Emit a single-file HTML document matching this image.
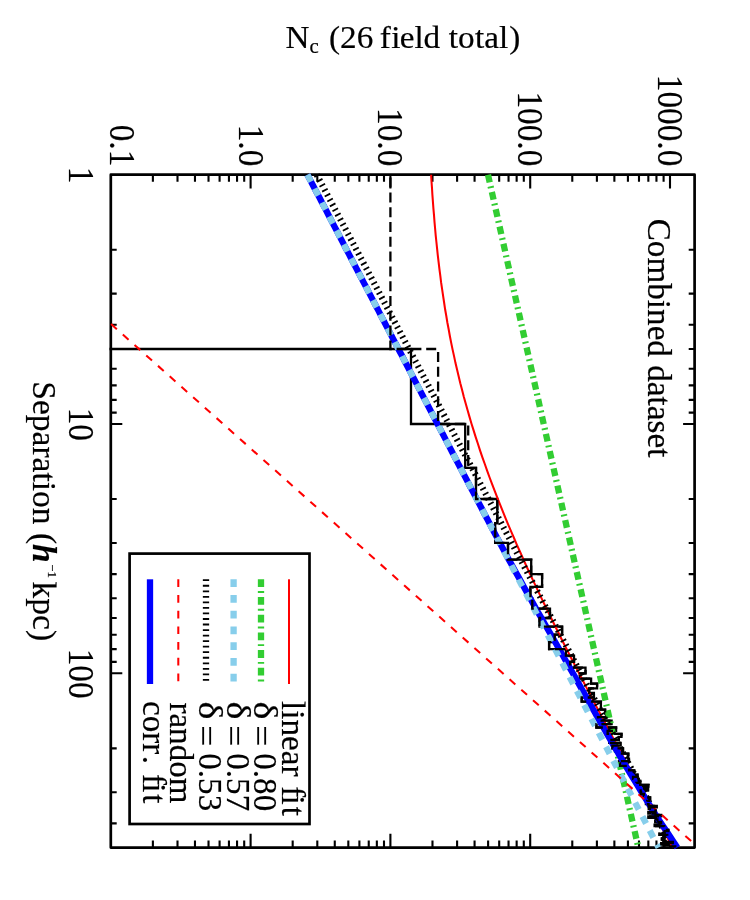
<!DOCTYPE html>
<html><head><meta charset="utf-8"><title>Nc vs separation</title>
<style>html,body{margin:0;padding:0;background:#fff;}body{width:750px;height:900px;overflow:hidden;}svg{display:block;will-change:transform;}text{font-family:"Liberation Serif",serif;fill:#000;stroke:#000;stroke-width:0.2px;}</style></head><body>
<svg width="750" height="900" viewBox="0 0 750 900">
<rect x="0" y="0" width="750" height="900" fill="#fff"/>
<defs><clipPath id="cp"><rect x="109.5" y="171.7" width="586.40" height="678.85"/></clipPath></defs>
<rect x="110.8" y="174.7" width="583.80" height="672.85" fill="none" stroke="#000" stroke-width="2.7" stroke-linejoin="round"/>
<path d="M152.88 174.7 v7.0 M152.88 847.55 v-7.0 M177.50 174.7 v7.0 M177.50 847.55 v-7.0 M194.97 174.7 v7.0 M194.97 847.55 v-7.0 M208.52 174.7 v7.0 M208.52 847.55 v-7.0 M219.59 174.7 v7.0 M219.59 847.55 v-7.0 M228.94 174.7 v7.0 M228.94 847.55 v-7.0 M237.05 174.7 v7.0 M237.05 847.55 v-7.0 M244.20 174.7 v7.0 M244.20 847.55 v-7.0 M250.60 174.7 v13.7 M250.60 847.55 v-13.7 M292.68 174.7 v7.0 M292.68 847.55 v-7.0 M317.30 174.7 v7.0 M317.30 847.55 v-7.0 M334.77 174.7 v7.0 M334.77 847.55 v-7.0 M348.32 174.7 v7.0 M348.32 847.55 v-7.0 M359.39 174.7 v7.0 M359.39 847.55 v-7.0 M368.74 174.7 v7.0 M368.74 847.55 v-7.0 M376.85 174.7 v7.0 M376.85 847.55 v-7.0 M384.00 174.7 v7.0 M384.00 847.55 v-7.0 M390.40 174.7 v13.7 M390.40 847.55 v-13.7 M432.48 174.7 v7.0 M432.48 847.55 v-7.0 M457.10 174.7 v7.0 M457.10 847.55 v-7.0 M474.57 174.7 v7.0 M474.57 847.55 v-7.0 M488.12 174.7 v7.0 M488.12 847.55 v-7.0 M499.19 174.7 v7.0 M499.19 847.55 v-7.0 M508.54 174.7 v7.0 M508.54 847.55 v-7.0 M516.65 174.7 v7.0 M516.65 847.55 v-7.0 M523.80 174.7 v7.0 M523.80 847.55 v-7.0 M530.20 174.7 v13.7 M530.20 847.55 v-13.7 M572.28 174.7 v7.0 M572.28 847.55 v-7.0 M596.90 174.7 v7.0 M596.90 847.55 v-7.0 M614.37 174.7 v7.0 M614.37 847.55 v-7.0 M627.92 174.7 v7.0 M627.92 847.55 v-7.0 M638.99 174.7 v7.0 M638.99 847.55 v-7.0 M648.34 174.7 v7.0 M648.34 847.55 v-7.0 M656.45 174.7 v7.0 M656.45 847.55 v-7.0 M663.60 174.7 v7.0 M663.60 847.55 v-7.0 M670.00 174.7 v13.7 M670.00 847.55 v-13.7 M110.8 249.75 h5.9 M694.6 249.75 h-5.9 M110.8 293.65 h5.9 M694.6 293.65 h-5.9 M110.8 324.79 h5.9 M694.6 324.79 h-5.9 M110.8 348.95 h5.9 M694.6 348.95 h-5.9 M110.8 368.69 h5.9 M694.6 368.69 h-5.9 M110.8 385.38 h5.9 M694.6 385.38 h-5.9 M110.8 399.84 h5.9 M694.6 399.84 h-5.9 M110.8 412.59 h5.9 M694.6 412.59 h-5.9 M110.8 424.00 h11.5 M694.6 424.00 h-11.5 M110.8 499.05 h5.9 M694.6 499.05 h-5.9 M110.8 542.95 h5.9 M694.6 542.95 h-5.9 M110.8 574.09 h5.9 M694.6 574.09 h-5.9 M110.8 598.25 h5.9 M694.6 598.25 h-5.9 M110.8 617.99 h5.9 M694.6 617.99 h-5.9 M110.8 634.68 h5.9 M694.6 634.68 h-5.9 M110.8 649.14 h5.9 M694.6 649.14 h-5.9 M110.8 661.89 h5.9 M694.6 661.89 h-5.9 M110.8 673.30 h11.5 M694.6 673.30 h-11.5 M110.8 748.35 h5.9 M694.6 748.35 h-5.9 M110.8 792.25 h5.9 M694.6 792.25 h-5.9 M110.8 823.39 h5.9 M694.6 823.39 h-5.9" stroke="#000" stroke-width="2.1" fill="none"/>
<g clip-path="url(#cp)" fill="none">
<polyline points="105.8,349.0 411.0,349.0 411.0,424.0 465.2,424.0 465.2,467.9 476.0,467.9 476.0,499.0 497.3,499.0 497.3,523.2 495.2,523.2 495.2,542.9 508.0,542.9 508.0,559.6 531.2,559.6 531.2,574.1 542.1,574.1 542.1,586.8 530.4,586.8 530.4,598.3 532.3,598.3 532.3,608.6 550.0,608.6 550.0,618.0 539.5,618.0 539.5,626.7 562.1,626.7 562.1,634.7 554.7,634.7 554.7,642.2 549.1,642.2 549.1,649.1 565.9,649.1 565.9,655.7 574.0,655.7 574.0,661.9 570.2,661.9 570.2,667.7 585.5,667.7 585.5,673.3 579.9,673.3 579.9,678.6 591.1,678.6 591.1,683.6 597.1,683.6 597.1,688.4 589.2,688.4 589.2,693.0 593.9,693.0 593.9,697.5 581.7,697.5 581.7,701.7 600.9,701.7 600.9,705.8 600.9,705.8 600.9,709.7 605.1,709.7 605.1,713.5 606.0,713.5 606.0,717.2 598.0,717.2 598.0,720.7 611.6,720.7 611.6,724.2 596.4,724.2 596.4,727.5 616.1,727.5 616.1,730.8 607.6,730.8 607.6,733.9 621.5,733.9 621.5,736.9 618.8,736.9 618.8,739.9 609.2,739.9 609.2,742.8 620.7,742.8 620.7,745.6 612.4,745.6 612.4,748.3 623.0,748.3 623.0,751.0 619.9,751.0 619.9,753.6 628.3,753.6 628.3,756.2 627.8,756.2 627.8,758.7 629.0,758.7 629.0,761.1 618.9,761.1 618.9,763.5 620.0,763.5 620.0,765.8 625.7,765.8 625.7,768.1 629.1,768.1 629.1,770.3 634.2,770.3 634.2,772.5 633.6,772.5 633.6,774.7 637.5,774.7 637.5,776.8 633.0,776.8 633.0,778.8 638.7,778.8 638.7,780.8 640.2,780.8 640.2,782.8 636.2,782.8 636.2,784.8 648.5,784.8 648.5,786.7 644.1,786.7 644.1,788.6 648.0,788.6 648.0,790.4 640.6,790.4 640.6,792.2 641.1,792.2 641.1,794.0 643.9,794.0 643.9,795.8 645.9,795.8 645.9,797.5 650.1,797.5 650.1,799.2 649.3,799.2 649.3,800.9 647.2,800.9 647.2,802.6 645.9,802.6 645.9,804.2 648.6,804.2 648.6,805.8 656.8,805.8 656.8,807.4 648.9,807.4 648.9,808.9 654.1,808.9 654.1,810.5 655.6,810.5 655.6,812.0 648.3,812.0 648.3,813.5 655.4,813.5 655.4,815.0 661.2,815.0 661.2,816.4 648.3,816.4 648.3,817.8 655.9,817.8 655.9,819.3 657.4,819.3 657.4,820.7 655.2,820.7 655.2,822.0 661.1,822.0 661.1,823.4 659.5,823.4 659.5,824.7 654.6,824.7 654.6,826.1 664.2,826.1 664.2,827.4 664.2,827.4 664.2,828.7 665.8,828.7 665.8,830.0 668.3,830.0 668.3,831.2 664.7,831.2 664.7,832.5 664.3,832.5 664.3,833.7 659.5,833.7 659.5,834.9 667.3,834.9 667.3,836.1 663.3,836.1 663.3,837.3 664.4,837.3 664.4,838.5 661.9,838.5 661.9,839.7 663.6,839.7 663.6,840.9 665.7,840.9 665.7,842.0 672.8,842.0 672.8,843.1 661.3,843.1 661.3,844.3 663.9,844.3 663.9,845.4 670.5,845.4 670.5,846.5 675.3,846.5 675.3,847.6" stroke="#000" stroke-width="2.3" stroke-linejoin="miter"/>
<polyline points="488.0,174.7 638.3,847.5" stroke="#32cd32" stroke-width="6.3" stroke-dasharray="7.8 4 1.9 4"/>
<polyline points="431.1,174.7 431.5,181.4 432.0,188.2 432.4,194.9 432.9,201.6 433.4,208.3 434.0,215.1 434.5,221.8 435.1,228.5 435.7,235.3 436.4,242.0 437.1,248.7 437.8,255.4 438.6,262.2 439.4,268.9 440.3,275.6 441.1,282.4 442.1,289.1 443.1,295.8 444.1,302.5 445.1,309.3 446.3,316.0 447.4,322.7 448.7,329.5 449.9,336.2 451.2,342.9 452.6,349.6 454.1,356.4 455.5,363.1 457.1,369.8 458.7,376.6 460.3,383.3 462.1,390.0 463.8,396.7 465.7,403.5 467.6,410.2 469.5,416.9 471.5,423.7 473.6,430.4 475.7,437.1 477.9,443.8 480.1,450.6 482.4,457.3 484.8,464.0 487.2,470.8 489.6,477.5 492.1,484.2 494.7,490.9 497.3,497.7 500.0,504.4 502.7,511.1 505.4,517.9 508.2,524.6 511.1,531.3 514.0,538.0 516.9,544.8 519.9,551.5 522.9,558.2 525.9,565.0 529.0,571.7 532.1,578.4 535.3,585.1 538.5,591.9 541.7,598.6 544.9,605.3 548.2,612.1 551.5,618.8 554.8,625.5 558.2,632.2 561.5,639.0 564.9,645.7 568.3,652.4 571.8,659.2 575.2,665.9 578.7,672.6 582.2,679.3 585.7,686.1 589.2,692.8 592.7,699.5 596.2,706.3 599.8,713.0 603.4,719.7 607.0,726.4 610.5,733.2 614.2,739.9 617.8,746.6 621.4,753.4 625.0,760.1 628.7,766.8 632.3,773.5 636.0,780.3 639.6,787.0 643.3,793.7 647.0,800.5 650.6,807.2 654.3,813.9 658.0,820.6 661.7,827.4 665.4,834.1 669.1,840.8 672.8,847.6" stroke="#ff0000" stroke-width="2.05"/>
<polyline points="316.7,174.7 673.0,847.5" stroke="#000" stroke-width="6.3" stroke-dasharray="1.8 3.74"/>
<polyline points="307.4,174.7 310.4,180.4 313.3,186.0 316.3,191.7 319.3,197.3 322.2,203.0 325.2,208.6 328.1,214.3 331.1,219.9 334.0,225.6 337.0,231.2 339.9,236.9 342.9,242.6 345.8,248.2 348.8,253.9 351.7,259.5 354.7,265.2 357.6,270.8 360.6,276.5 363.5,282.1 366.5,287.8 369.4,293.4 372.4,299.1 375.3,304.7 378.3,310.4 381.2,316.1 384.2,321.7 387.1,327.4 390.1,333.0 393.0,338.7 396.0,344.3 398.9,350.0 401.9,355.6 404.8,361.3 407.8,366.9 410.7,372.6 413.7,378.3 416.6,383.9 419.6,389.6 422.5,395.2 425.5,400.9 428.4,406.5 431.4,412.2 434.3,417.8 437.3,423.5 440.2,429.1 443.2,434.8 446.1,440.4 449.1,446.1 452.0,451.8 455.0,457.4 457.9,463.1 460.9,468.7 463.8,474.4 466.8,480.0 469.7,485.7 472.7,491.3 475.7,497.0 478.6,502.6 481.6,508.3 484.5,514.0 487.5,519.6 490.5,525.3 493.5,530.9 496.5,536.6 499.5,542.2 502.6,547.9 505.6,553.5 508.6,559.2 511.7,564.8 514.8,570.5 518.0,576.1 521.1,581.8 524.2,587.5 527.3,593.1 530.5,598.8 533.6,604.4 536.7,610.1 540.0,615.7 543.3,621.4 546.5,627.0 549.8,632.7 553.0,638.3 556.3,644.0 559.5,649.7 562.7,655.3 565.9,661.0 569.1,666.6 572.3,672.3 575.5,677.9 578.7,683.6 581.8,689.2 585.0,694.9 588.2,700.5 591.3,706.2 594.5,711.8 597.6,717.5 600.9,723.2 604.1,728.8 607.3,734.5 610.6,740.1 613.8,745.8 617.2,751.4 620.5,757.1 623.9,762.7 627.2,768.4 630.6,774.0 634.0,779.7 637.5,785.4 640.9,791.0 644.4,796.7 647.9,802.3 651.4,808.0 654.9,813.6 658.5,819.3 662.3,824.9 666.1,830.6 669.9,836.2 673.6,841.9 677.3,847.5" stroke="#0000ff" stroke-width="6.3"/>
<polyline points="307.4,174.7 658.6,847.5" stroke="#87ceeb" stroke-width="6.3" stroke-dasharray="7.8 7.94"/>
<polyline points="111.1,324.1 694.6,844.2" stroke="#ff0000" stroke-width="2.05" stroke-dasharray="7.7 8"/>
<polyline points="390.4,174.7 390.4,349.0 438.1,349.0 438.1,424.0 468.2,424.0 468.2,467.9 476.0,467.9 476.0,499.0 497.3,499.0 497.3,523.2 495.2,523.2 495.2,542.9 508.0,542.9 508.0,559.6 531.2,559.6 531.2,574.1 542.1,574.1 542.1,586.8 530.4,586.8 530.4,598.3 532.3,598.3 532.3,608.6 550.0,608.6 550.0,618.0 539.5,618.0 539.5,626.7 562.1,626.7 562.1,634.7 554.7,634.7 554.7,642.2 549.1,642.2 549.1,649.1 565.9,649.1 565.9,655.7 574.0,655.7 574.0,661.9 570.2,661.9 570.2,667.7 585.5,667.7 585.5,673.3 579.9,673.3 579.9,678.6 591.1,678.6 591.1,683.6 597.1,683.6 597.1,688.4 589.2,688.4 589.2,693.0 593.9,693.0 593.9,697.5 581.7,697.5 581.7,701.7 600.9,701.7 600.9,705.8 600.9,705.8 600.9,709.7 605.1,709.7 605.1,713.5 606.0,713.5 606.0,717.2 598.0,717.2 598.0,720.7 611.6,720.7 611.6,724.2 596.4,724.2 596.4,727.5 616.1,727.5 616.1,730.8 607.6,730.8 607.6,733.9 621.5,733.9 621.5,736.9 618.8,736.9 618.8,739.9 609.2,739.9 609.2,742.8 620.7,742.8 620.7,745.6 612.4,745.6 612.4,748.3 623.0,748.3 623.0,751.0 619.9,751.0 619.9,753.6 628.3,753.6 628.3,756.2 627.8,756.2 627.8,758.7 629.0,758.7 629.0,761.1 618.9,761.1 618.9,763.5 620.0,763.5 620.0,765.8 625.7,765.8 625.7,768.1 629.1,768.1 629.1,770.3 634.2,770.3 634.2,772.5 633.6,772.5 633.6,774.7 637.5,774.7 637.5,776.8 633.0,776.8 633.0,778.8 638.7,778.8 638.7,780.8 640.2,780.8 640.2,782.8 636.2,782.8 636.2,784.8 648.5,784.8 648.5,786.7 644.1,786.7 644.1,788.6 648.0,788.6 648.0,790.4 640.6,790.4 640.6,792.2 641.1,792.2 641.1,794.0 643.9,794.0 643.9,795.8 645.9,795.8 645.9,797.5 650.1,797.5 650.1,799.2 649.3,799.2 649.3,800.9 647.2,800.9 647.2,802.6 645.9,802.6 645.9,804.2 648.6,804.2 648.6,805.8 656.8,805.8 656.8,807.4 648.9,807.4 648.9,808.9 654.1,808.9 654.1,810.5 655.6,810.5 655.6,812.0 648.3,812.0 648.3,813.5 655.4,813.5 655.4,815.0 661.2,815.0 661.2,816.4 648.3,816.4 648.3,817.8 655.9,817.8 655.9,819.3 657.4,819.3 657.4,820.7 655.2,820.7 655.2,822.0 661.1,822.0 661.1,823.4 659.5,823.4 659.5,824.7 654.6,824.7 654.6,826.1 664.2,826.1 664.2,827.4 664.2,827.4 664.2,828.7 665.8,828.7 665.8,830.0 668.3,830.0 668.3,831.2 664.7,831.2 664.7,832.5 664.3,832.5 664.3,833.7 659.5,833.7 659.5,834.9 667.3,834.9 667.3,836.1 663.3,836.1 663.3,837.3 664.4,837.3 664.4,838.5 661.9,838.5 661.9,839.7 663.6,839.7 663.6,840.9 665.7,840.9 665.7,842.0 672.8,842.0 672.8,843.1 661.3,843.1 661.3,844.3 663.9,844.3 663.9,845.4 670.5,845.4 670.5,846.5 675.3,846.5 675.3,847.6" stroke="#000" stroke-width="2.3" stroke-dasharray="10 4.8" stroke-dashoffset="11.9" stroke-linejoin="miter"/>
</g>
<text transform="translate(285.6,47.9) scale(1.035,1)" font-size="32.1">N<tspan font-size="20.2" dy="4.8">c</tspan><tspan dy="-4.8"> </tspan><tspan dx="1.8">(26 </tspan><tspan dx="-1.8">f</tspan><tspan dx="0.4">i</tspan><tspan dx="-0.8">eld </tspan><tspan dx="0.2">to</tspan><tspan dx="0.5">tal</tspan><tspan dx="0.9">)</tspan></text>
<text transform="translate(110.2,166.3) rotate(90) scale(1,1.045)" font-size="33.3" text-anchor="end" >0.1</text>
<text transform="translate(238.60000000000002,166.3) rotate(90) scale(1,1.045)" font-size="33.3" text-anchor="end" >1.0</text>
<text transform="translate(378.40000000000003,166.3) rotate(90) scale(1,1.045)" font-size="33.3" text-anchor="end" >10.0</text>
<text transform="translate(518.2,166.3) rotate(90) scale(1,1.045)" font-size="33.3" text-anchor="end" >100.0</text>
<text transform="translate(658.0,166.3) rotate(90) scale(1,1.045)" font-size="33.3" text-anchor="end" >1000.0</text>
<text transform="translate(69.1,175.0) rotate(90) scale(1,1.045)" font-size="33.3" text-anchor="middle" >1</text>
<text transform="translate(69.1,424.3) rotate(90) scale(1,1.045)" font-size="33.3" text-anchor="middle" >10</text>
<text transform="translate(69.1,673.5999999999999) rotate(90) scale(1,1.045)" font-size="33.3" text-anchor="middle" >100</text>
<text transform="translate(33.3,381.3) rotate(90) scale(1,1.03)" font-size="33.5">Separation (<tspan font-weight="bold" font-style="italic">h</tspan><tspan font-size="12.8" dy="-14.3" dx="1.5">&#8722;1</tspan><tspan dy="14.3" dx="3.8">kpc)</tspan></text>
<text transform="translate(647.9,218.7) rotate(90) scale(1,1.045)" font-size="33.2" text-anchor="start" >Combined dataset</text>
<rect x="129.6" y="553.6" width="179.9" height="270.4" fill="#fff" stroke="#000" stroke-width="2.7"/>
<line x1="289.0" y1="579.3" x2="289.0" y2="684.0" stroke="#ff0000" stroke-width="2.05" fill="none"/>
<text transform="translate(282.2,701.1) rotate(90) scale(1,1.045)" font-size="33.1" text-anchor="start" >linear <tspan dx="1.5">f</tspan><tspan dx="-1.7">i</tspan><tspan dx="1.9">t</tspan></text>
<line x1="261.0" y1="579.3" x2="261.0" y2="684.0" stroke="#32cd32" stroke-width="6.3" stroke-dasharray="7.8 4 1.9 4" fill="none"/>
<text transform="translate(254.2,701.5) rotate(90) scale(1.15,1.045)" font-size="33.1">&#948;</text>
<text transform="translate(250.2,725.2) rotate(90) scale(1.136,1.045)" font-size="33.1">=</text>
<text transform="translate(254.2,753.3000000000001) rotate(90) scale(1,1.045)" font-size="33.1" text-anchor="start" >0.80</text>
<line x1="233.6" y1="579.3" x2="233.6" y2="684.0" stroke="#87ceeb" stroke-width="6.3" stroke-dasharray="7.8 7.94" fill="none"/>
<text transform="translate(226.79999999999998,701.5) rotate(90) scale(1.15,1.045)" font-size="33.1">&#948;</text>
<text transform="translate(222.79999999999998,725.2) rotate(90) scale(1.136,1.045)" font-size="33.1">=</text>
<text transform="translate(226.79999999999998,753.3000000000001) rotate(90) scale(1,1.045)" font-size="33.1" text-anchor="start" >0.57</text>
<line x1="206.0" y1="579.3" x2="206.0" y2="684.0" stroke="#000" stroke-width="6.3" stroke-dasharray="1.8 3.74" fill="none"/>
<text transform="translate(199.2,701.5) rotate(90) scale(1.15,1.045)" font-size="33.1">&#948;</text>
<text transform="translate(195.2,725.2) rotate(90) scale(1.136,1.045)" font-size="33.1">=</text>
<text transform="translate(199.2,753.3000000000001) rotate(90) scale(1,1.045)" font-size="33.1" text-anchor="start" >0.53</text>
<line x1="178.3" y1="579.3" x2="178.3" y2="684.0" stroke="#ff0000" stroke-width="2.05" stroke-dasharray="7.7 8" fill="none"/>
<text transform="translate(170.3,702.4) rotate(90) scale(1,1.045)" font-size="33.1" text-anchor="start" >random</text>
<line x1="150.0" y1="579.3" x2="150.0" y2="684.0" stroke="#0000ff" stroke-width="6.3" fill="none"/>
<text transform="translate(143.2,701.1) rotate(90) scale(1,1.045)" font-size="33.1" text-anchor="start" >corr<tspan dx="1.5">.</tspan> <tspan dx="1.5">f</tspan><tspan dx="-1.7">i</tspan><tspan dx="1.9">t</tspan></text>
</svg></body></html>
